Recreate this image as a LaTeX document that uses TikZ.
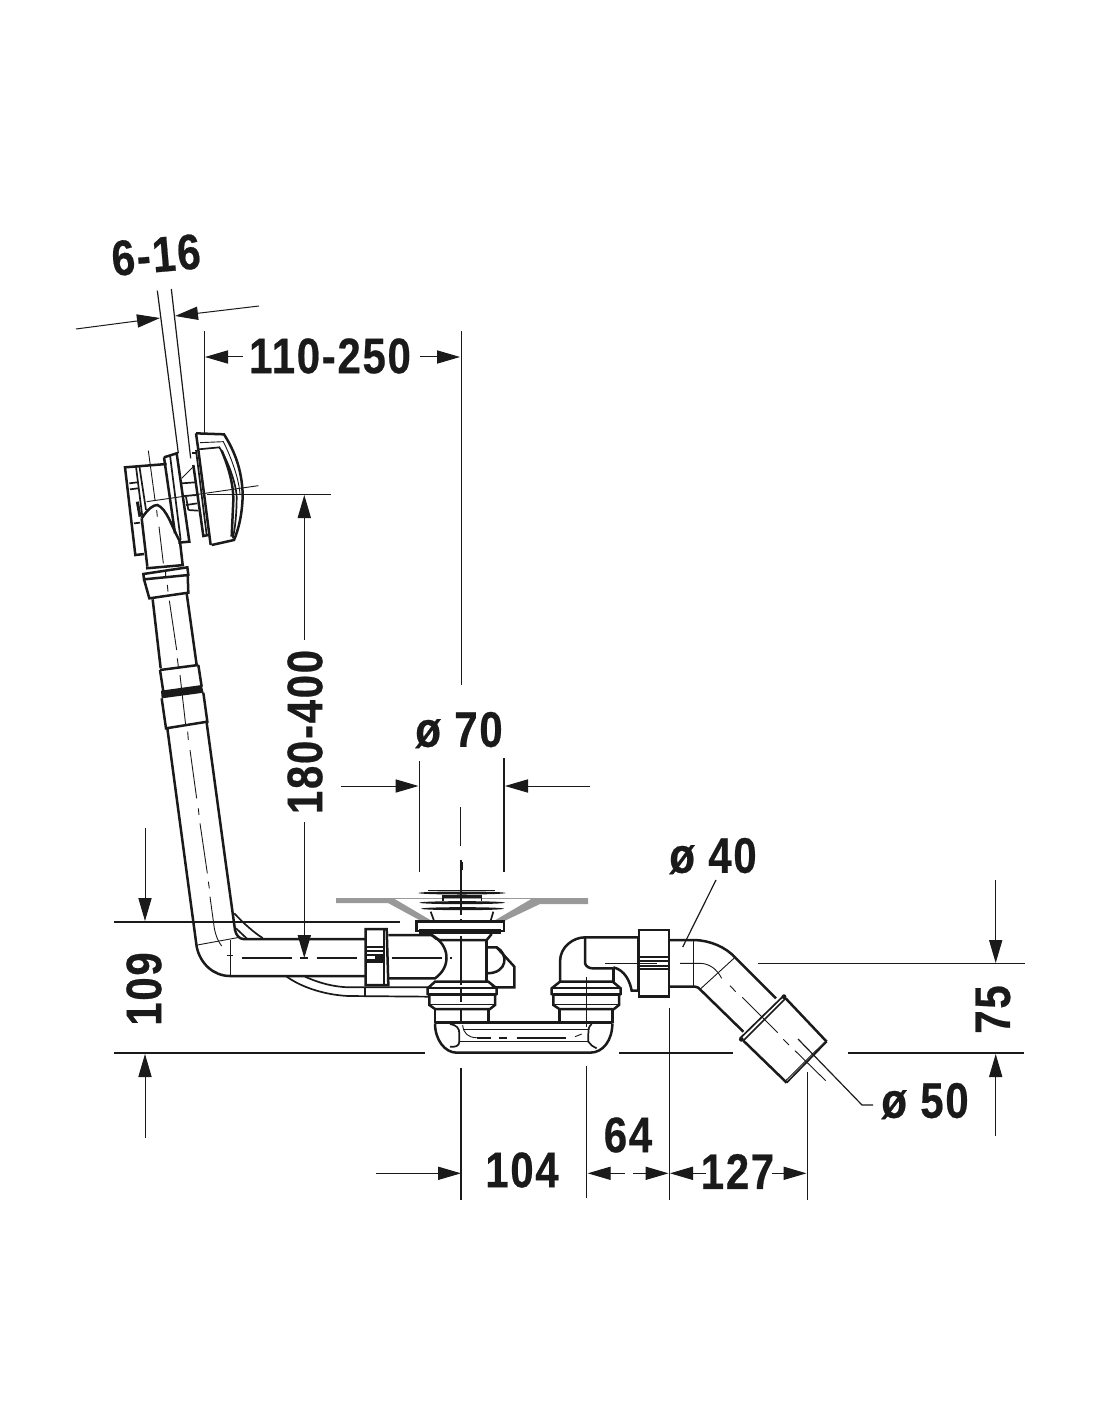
\documentclass[tikz,border=0pt]{standalone}
\usepackage{fontspec}
\setmainfont{Liberation Sans}[BoldFeatures={FakeBold=0.5,LetterSpace=4}]
\usetikzlibrary{arrows.meta}
\definecolor{ink}{HTML}{1A1A1A}
\definecolor{greyband}{HTML}{999999}
\tikzset{
  thk/.style={line width=1.25pt,draw=ink},
  med/.style={line width=0.85pt,draw=ink},
  thn/.style={line width=0.45pt,draw=ink},
  hvy/.style={line width=2.4pt,draw=ink},
  dimarrow/.style={line width=0.5pt,draw=ink,-{Triangle[length=11.5pt,width=6.6pt]}},
  dimtext/.style={font=\bfseries\fontsize{25}{25}\selectfont,text=ink,inner sep=0pt},
  zoomed/.style n args={2}{shift={(#1,#2)},x=0.16667pt,y=-0.16667pt},
  line join=round
}
\newcommand{\nar}[1]{\scalebox{0.84}[1]{#1}}
\begin{document}
\begin{tikzpicture}[x=0.5pt,y=-0.5pt]
\useasboundingbox (0,0) rectangle (1100,1422);
\fill[white] (0,0) rectangle (1100,1422);

% ---------- wall and overflow ----------
\begin{scope}[zoomed={60}{220}]
\draw[thn,line width=0.6pt] (292,212)--(355,700);
\draw[thn,line width=0.6pt] (334,207)--(392,715);
% overflow cup
\draw[thk] (320,732)--(195,742)--(226,1005)--(252,1002);
\draw[med] (228,740)--(247,890);
\draw[med] (238,738)--(258,870);
\draw[med] (208,790)--(232,787) (210,808)--(234,805) (222,910)--(240,908);
\draw[hvy,line width=1.5pt] (232,845)--(240,890);
% mounting flange
\draw[thk] (312,712)--(350,700)--(388,965)--(355,968);
\draw[med] (330,705)--(362,960);
\draw[thk] (312,712)--(345,940);
% gland
\draw[med] (365,790)--(405,787) (372,828)--(410,825) (378,855)--(412,850) (385,870)--(415,872);
\draw[med] (378,830)--(385,870);
\draw[thn] (365,775)--(400,740);
% washer
\draw[med] (395,700)--(412,700);
\draw[thk] (400,735)--(430,948)--(445,945);
% knob
\draw[thk] (408,640)--(492,643) .. controls (525,695) and (545,750) .. (548,820) .. controls (548,880) and (535,930) .. (522,960)--(455,975);
\draw[thk] (408,640)--(415,690)--(452,975);
\draw[med] (408,690)--(440,945);
\draw[med] (415,688)--(478,682) .. controls (505,725) and (528,790) .. (530,830) .. controls (530,880) and (525,930) .. (518,955);
\draw[thn] (420,668)--(490,665) .. controls (515,715) and (538,780) .. (540,825);
\draw[thk] (485,692) .. controls (505,740) and (520,790) .. (520,840)--(515,950);
% elbow of the overflow
\draw[thk] (245,895) .. controls (265,865) and (280,855) .. (292,855) .. controls (320,865) and (335,920) .. (360,965);
\draw[thk] (245,895)--(262,1040);
\draw[thk] (360,965)--(368,1035);
% ring
\draw[thk] (258,1045)--(372,1035);
\draw[thk] (250,1062)--(382,1042)--(385,1065)--(252,1078)--cycle;
\draw[thk] (252,1078)--(268,1135)--(385,1118)--(383,1065);
% centre lines
\draw[thn] (265,692)--(285,840) (260,845)--(595,797);
\draw[thn] (290,870)--(292,890) (297,920)--(310,1030) (317,1050)--(317,1070) (322,1095)--(324,1115);
\end{scope}

% ---------- riser ----------
\begin{scope}[zoomed={130}{540}]
\draw[thk] (68,178)--(92,385);
\draw[thk] (170,160)--(200,375);
\draw[thk] (90,390)--(205,375);
\draw[thk] (90,390)--(100,455);
\draw[thk] (205,375)--(215,440);
\fill[ink] (93,452)--(215,435)--(221,458)--(95,475)--cycle;
\draw[thk] (95,475)--(108,565)--(232,545)--(220,458);
\draw[thk] (112,565)--(165,960);
\draw[thk] (230,548)--(286,960);
\draw[thn] (118,182)--(140,330) (142,355)--(145,380) (150,405)--(167,555) (173,575)--(175,600) (180,630)--(200,775) (205,805)--(207,825) (210,850)--(232,1000) (235,1025)--(238,1045);
\end{scope}

% ---------- grey bath line ----------
\fill[greyband] (336,898)--(393,898)--(432,921)--(423,922)--(388,903)--(336,903)--cycle;
\fill[greyband] (533,898)--(588,898)--(588,904)--(540,904)--(500,923)--(492,922)--cycle;
\draw[line width=0.5pt,draw=greyband] (393,898.5)--(533,898.5);
\draw[line width=0.5pt,draw=greyband] (432,921.5)--(495,921.5);

% ---------- waste and overflow pipe ----------
\begin{scope}[zoomed={180}{860}]
\draw[thk] (15,0)--(50,260) .. controls (60,310) and (100,348) .. (150,348)--(555,348);
\draw[thk] (136,0)--(165,210) .. controls (168,225) and (178,237) .. (190,237)--(555,237);
\draw[thn] (52,255)--(178,232);
\draw[thn] (152,240)--(152,348);
\draw[med] (163,160) .. controls (190,190) and (225,220) .. (248,234);
\draw[med] (168,205)--(200,235);
\draw[thn] (90,110)--(103,205) .. controls (108,230) and (115,245) .. (125,258);
\draw[thn] (140,285)--(160,285);
\draw[med] (185,293)--(335,293) (360,293)--(385,293) (410,293)--(530,293) (635,293)--(785,293) (810,293)--(815,293);
% union nut
\draw[thk] (557,207)--(620,207)--(625,375)--(557,375)--cycle;
\draw[med] (612,210)--(612,375);
\draw[med] (560,262)--(612,262) (560,272)--(612,272) (560,305)--(612,305) (560,285)--(612,285) (560,300)--(612,300);
\fill[ink] (585,287) rectangle (610,299);
\draw[thk] (625,225)--(755,225) .. controls (810,255) and (815,320) .. (765,355)--(625,355);
% hoses
\draw[med] (320,350) .. controls (370,385) and (440,405) .. (505,408)--(745,410);
\draw[med] (375,350) .. controls (420,370) and (460,380) .. (505,382)--(745,382);
\draw[med] (555,382)--(555,410);
% strainer
\draw[thn] (745,90)--(945,90);
\fill[ink] (715,99) .. controls (720,93) and (970,93) .. (977,99) .. controls (970,105) and (720,105) .. (715,99)--cycle;
\draw[med] (788,104)--(788,124) (904,104)--(904,124);
\draw[thk] (790,109)--(904,109);
\fill[ink] (718,128) .. controls (723,122) and (970,122) .. (975,128) .. controls (970,134) and (723,134) .. (718,128)--cycle;
\fill[ink] (723,146) .. controls (728,140) and (967,140) .. (972,146) .. controls (967,152) and (728,152) .. (723,146)--cycle;
\draw[med] (752,155)--(762,182) (940,155)--(932,182);
% flange
\draw[thk] (710,185)--(972,185)--(972,213)--(710,213)--cycle;
\draw[hvy] (718,215)--(962,215);
\draw[thk] (755,225) .. controls (765,232) and (770,240) .. (778,240)--(920,240)--(935,222);
\draw[thk] (920,240)--(920,365);
% side spigot
\draw[thk] (920,262)--(950,262) .. controls (985,280) and (985,340) .. (920,340);
\draw[thk] (950,262)--(1003,320)--(1003,382)--(935,382);
% lower nut, left
\draw[thk] (765,365)--(925,365)--(950,385)--(950,402)--(945,405)--(945,435)--(930,447)--(765,447)--(748,435)--(748,405)--(743,402)--(743,385)--cycle;
\draw[med] (745,383)--(948,383);
\draw[thk] (745,404)--(948,404);
\draw[thn] (750,432)--(945,432);
\draw[thk] (765,447)--(765,490) (925,447)--(925,488);
\end{scope}

% ---------- trap ----------
\begin{scope}[zoomed={400}{860}]
\draw[thk] (105,488)--(635,488);
\draw[thk] (105,490) .. controls (105,540) and (135,578) .. (170,578)--(570,578) .. controls (610,578) and (637,540) .. (637,490);
\draw[med] (150,492) .. controls (170,495) and (178,505) .. (178,520)--(178,545) .. controls (178,558) and (165,562) .. (150,560);
\draw[med] (575,492) .. controls (565,500) and (565,510) .. (565,520)--(565,545) .. controls (570,555) and (580,560) .. (590,565);
\draw[thn] (190,508)--(565,508) (178,545)--(565,545);
\draw[thn] (188,495) .. controls (190,520) and (205,533) .. (230,533);
\draw[med] (230,533)--(272,533) (298,533)--(322,533) (350,533)--(498,533);
\draw[thn] (525,530)--(545,522);
% right nut
\draw[thk] (480,365)--(638,365)--(662,385)--(662,402)--(657,405)--(657,435)--(642,447)--(478,447)--(460,435)--(460,405)--(455,402)--(455,385)--cycle;
\draw[med] (457,383)--(660,383);
\draw[thk] (457,404)--(660,404);
\draw[thn] (462,432)--(657,432);
\draw[thk] (478,447)--(478,485) (638,447)--(638,490);
% right elbow
\draw[thk] (480,365)--(480,305) .. controls (480,260) and (520,232) .. (555,232)--(715,232);
\draw[thk] (555,232)--(555,310) .. controls (558,320) and (568,325) .. (578,325)--(640,325);
\draw[thk] (640,325)--(640,365);
\draw[thk] (640,322) .. controls (675,330) and (690,365) .. (695,392)--(715,392);
\draw[thn] (615,310)--(770,310);
\draw[thn] (559,350)--(559,500);
\end{scope}

% ---------- outlet ----------
\begin{scope}[zoomed={540}{900}]
\draw[thk] (297,90)--(387,90)--(387,290)--(297,290)--cycle;
\draw[thn] (293,110)--(293,270);
\draw[med] (300,172)--(385,172) (300,182)--(385,182) (300,198)--(385,198) (300,207)--(385,207);
\draw[thk] (387,120)--(465,120) .. controls (510,122) and (555,140) .. (585,172)--(708,295);
\draw[thk] (387,260)--(465,260) .. controls (472,260) and (476,264) .. (480,268)--(610,395);
\draw[thn] (460,120)--(460,260);
\draw[thn] (585,172)--(480,268);
\draw[thn] (420,190)--(480,190) .. controls (505,190) and (530,205) .. (545,235);
\draw[thn] (570,257)--(587,275) (607,292)--(713,398) (730,418)--(747,435) (765,452)--(857,542);
% collar
\draw[med] (600,415)--(730,288);
\draw[med] (610,422)--(737,295);
\fill[ink] (604,418) circle (1.2pt) (732,290) circle (1.2pt);
% sleeve
\draw[thk] (737,295)--(860,425);
\draw[thk] (610,422)--(740,548);
\draw[med] (860,425)--(740,548);
\draw[thn] (855,425)--(737,542);
\end{scope}

% ---------- centre lines ----------
\draw[med] (461,860)--(461,915) (461,919)--(461,923) (461,936)--(461,985) (461,988)--(461,1002) (461,1009)--(461,1023) (461,1068)--(461,1200);
\draw[thn] (461,331)--(461,685) (460.7,807)--(460.7,846);
\draw[med] (461.7,862)--(461.7,870);
\draw[thn] (586.3,1066)--(586.3,1198);
\draw[thn] (669.3,1008)--(669.3,1200);
\draw[thn] (807.3,1072)--(807.3,1200);
\draw[thn] (419.3,761)--(419.3,872);
\draw[med] (503.7,758)--(503.7,872);
\draw[thn] (204.3,331)--(204.3,433);

% ---------- dimension base lines ----------
\draw[med] (114,921.7)--(400,921.7);
\draw[med] (114,1052.7)--(425,1052.7) (619,1052.7)--(733,1052.7) (848,1052.7)--(1024,1052.7);
\draw[med] (758,963.5)--(1025,963.5);
\draw[thn] (207,494)--(331,494);

% ---------- arrows ----------
\draw[dimarrow] (76,329)--(160,318);
\draw[dimarrow] (259,306)--(175,316);
\draw[dimarrow] (243,357)--(205,357);
\draw[dimarrow] (420,357)--(460,357);
\draw[dimarrow] (304.3,640)--(304.3,495);
\draw[dimarrow] (304.3,822)--(304.3,958);
\draw[dimarrow] (341,786)--(418.5,786);
\draw[dimarrow] (590,786)--(505,786);
\draw[dimarrow] (145,828)--(145,921);
\draw[dimarrow] (145,1138)--(145,1054);
\draw[dimarrow] (995.7,880)--(995.7,963);
\draw[dimarrow] (995.7,1136)--(995.7,1054);
\draw[dimarrow] (376,1173.3)--(461,1173.3);
\draw[dimarrow] (625,1173.3)--(587.7,1173.3);
\draw[dimarrow] (633.3,1173.3)--(668.5,1173.3);
\draw[dimarrow] (706,1173.3)--(670,1173.3);
\draw[dimarrow] (771.7,1173.3)--(806.5,1173.3);

% ---------- leaders ----------
\draw[thn,line width=0.6pt] (716,880)--(682.7,947);
\draw[thn,line width=0.6pt] (798,1039)--(862,1105)--(873,1105);

% ---------- labels ----------
\node[dimtext,rotate=5] (dimA) at (156,255) {\nar{6-16}};
\node[dimtext] (dimB) at (330,356) {\nar{110-250}};
\node[dimtext,rotate=90] (dimC) at (305,732) {\nar{180-400}};
\node[dimtext] (dimD) at (459,730) {\nar{ø 70}};
\node[dimtext] (dimE) at (713,856) {\nar{ø 40}};
\node[dimtext,rotate=90] (dimF) at (144,989) {\nar{109}};
\node[dimtext,rotate=90] (dimG) at (993,1009.5) {\nar{75}};
\node[dimtext] (dimH) at (925,1101) {\nar{ø 50}};
\node[dimtext] (dimI) at (522,1170) {\nar{104}};
\node[dimtext] (dimJ) at (628,1135) {\nar{64}};
\node[dimtext] (dimK) at (737.5,1171.5) {\nar{127}};
\end{tikzpicture}
\end{document}
